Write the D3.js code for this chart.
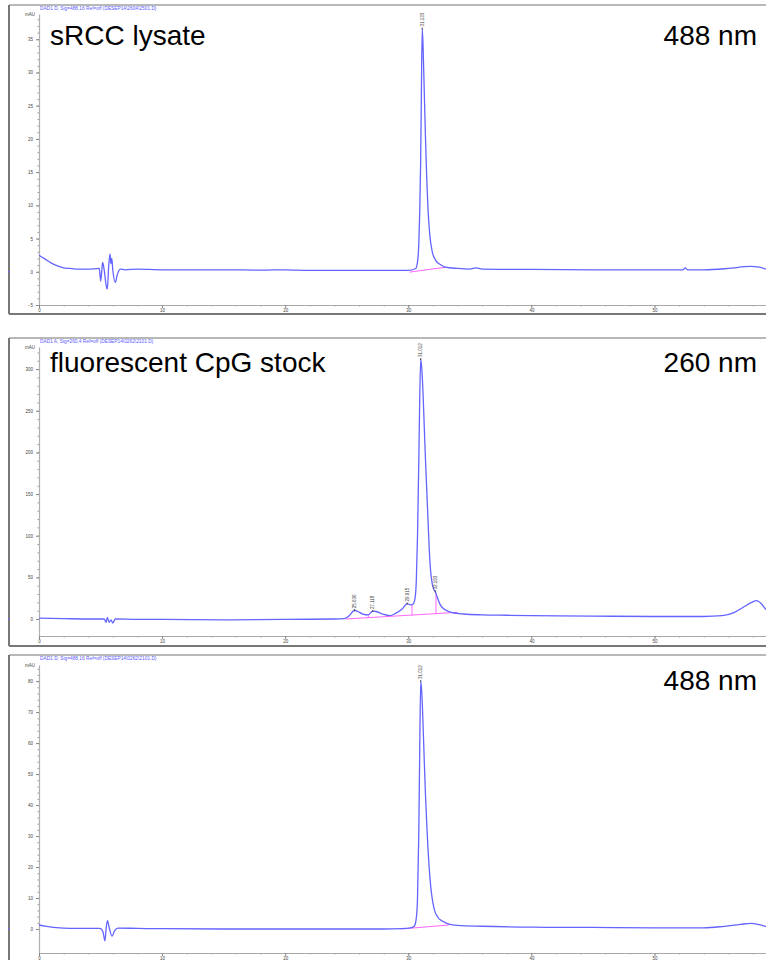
<!DOCTYPE html>
<html>
<head>
<meta charset="utf-8">
<script src="https://cdn.jsdelivr.net/npm/d3@7"></script>
<style>
  body { margin: 0; background: #fff; }
  svg { display: block; }
</style>
</head>
<body>
<div id="chart"></div>
<script>
// x ticks (minutes) shared by all three traces
const xTicks = [0, 10, 20, 30, 40, 50];

// panel 1: sRCC lysate, 488 nm
const lysateTime = [0, 0.5, 1, 1.5, 2, 2.5, 3, 4, 4.9, 5.01, 5.1, 5.17, 5.3, 5.45, 5.55, 5.65, 5.77, 5.84, 5.91, 6.0, 6.2, 6.35, 6.6,
  7, 8, 10, 12, 15, 18, 20, 22, 25, 28, 30, 30.6, 30.75, 30.85, 30.93, 31.0, 31.06, 31.133, 31.2, 31.3, 31.4, 31.5,
  31.6, 31.75, 31.95, 32.2, 32.6, 33, 34, 35, 35.5, 36, 40, 45, 50, 52.3, 52.5, 52.7, 54, 56, 57.8, 58.5, 59.06];
const lysateSignal = [2.5, 1.9, 1.3, 0.9, 0.6, 0.5, 0.4, 0.4, 0.5, -1.4, 0.2, 1.4, 0.2, -2.0, -2.6, 0.5, 2.7, 1.2, 2.0, 0.2, -1.6, -0.5, 0.4,
  0.3, 0.4, 0.3, 0.3, 0.3, 0.25, 0.3, 0.2, 0.2, 0.2, 0.2, 0.5, 1.5, 4, 9, 16, 26, 36.6, 34, 27, 20, 14,
  9.5, 5.5, 3, 1.8, 1.1, 0.7, 0.5, 0.4, 0.6, 0.4, 0.35, 0.3, 0.3, 0.3, 0.6, 0.3, 0.3, 0.5, 0.8, 0.7, 0.4];
const lysateYTicks = [-5, 0, 5, 10, 15, 20, 25, 30, 35];
const lysatePeaks = [31.133];
const lysateBaseTime = [30.1, 33.1];
const lysateBaseSignal = [-0.05, 0.7];
const lysateDrops = [];

// panel 2: fluorescent CpG stock, 260 nm
const stock260Time = [0, 2, 4, 5.3, 5.45, 5.55, 5.7, 5.85, 6.0, 6.2, 8, 10, 15, 20, 24, 24.8, 25.2, 25.5, 25.636, 25.9, 26.3, 26.75,
  27.118, 27.4, 27.9, 28.5, 29, 29.5, 29.915, 30.2, 30.4, 30.55, 30.65, 30.75, 30.85, 30.93, 31.012, 31.1, 31.2, 31.3,
  31.4, 31.5, 31.6, 31.7, 31.8, 31.95, 32.1, 32.193, 32.35, 32.6, 33.0, 33.6, 34.5, 36, 38, 40, 45, 50, 54, 55.5, 56.5,
  57.3, 57.9, 58.3, 58.7, 59.06];
const stock260Signal = [1, 0.5, 0, 0, -4, 2, -4, -1, -5, 0, -0.5, -0.5, -1, -0.5, 0, 0.5, 4, 9, 10.5, 9, 6, 5,
  9.5, 9, 6, 4, 7, 12, 18.5, 17, 18, 25, 45, 100, 185, 265, 312, 300, 270, 230,
  190, 155, 120, 85, 60, 42, 35, 33, 26, 17, 11, 7.5, 6, 5, 4.5, 4, 3.5, 3, 3, 4, 8,
  15, 20, 22, 18, 11];
const stock260YTicks = [0, 50, 100, 150, 200, 250, 300];
const stock260Peaks = [25.636, 27.118, 29.915, 31.012, 32.193];
const stock260BaseTime = [24.9, 34.0];
const stock260BaseSignal = [0, 8];
const stock260Drops = [26.75, 28.5, 30.3, 32.25];

// panel 3: fluorescent CpG stock, 488 nm
const stock488Time = [0, 0.5, 1, 2, 3, 4.5, 4.95, 5.2, 5.36, 5.45, 5.56, 5.7, 5.93, 6.15, 6.4, 8, 10, 15, 20, 25, 28, 29.4, 30.2,
  30.5, 30.65, 30.75, 30.85, 30.93, 31.012, 31.1, 31.2, 31.3, 31.4, 31.5, 31.6, 31.75, 31.9, 32.1, 32.4, 32.8, 33.3, 34,
  36, 40, 45, 50, 54, 55.5, 57, 57.8, 58.5, 59.06];
const stock488Signal = [1.3, 0.9, 0.6, 0.3, 0.2, 0.2, 0.2, -1, -3.8, 0, 2.7, 0.5, -2.3, -0.5, 0.3, 0.2, 0.1, 0, 0, 0, 0, 0.1, 0.4,
  1, 3.5, 10, 30, 58, 80, 76, 66, 54, 43, 34, 26, 17, 11, 6.5, 3.8, 2.5, 1.6, 1.2,
  0.9, 0.6, 0.5, 0.4, 0.4, 0.8, 1.5, 1.8, 1.4, 0.8];
const stock488YTicks = [0, 10, 20, 30, 40, 50, 60, 70, 80];
const stock488Peaks = [31.012];
const stock488BaseTime = [29.4, 33.3];
const stock488BaseSignal = [0, 1.3];
const stock488Drops = [];

const panels = [
  { time: lysateTime, signal: lysateSignal, yTicks: lysateYTicks, peaks: lysatePeaks,
    baseTime: lysateBaseTime, baseSignal: lysateBaseSignal, drops: lysateDrops,
    header: 'DAD1 D, Sig=488,16 Ref=off (DESEP14\\2604\\2501.D)', title: 'sRCC lysate', wave: '488 nm',
    frameTop: 5, frameBottom: 314, plotTop: 14, plotBottom: 305, yDomain: [-5, 38.8], titleY: 45 },
  { time: stock260Time, signal: stock260Signal, yTicks: stock260YTicks, peaks: stock260Peaks,
    baseTime: stock260BaseTime, baseSignal: stock260BaseSignal, drops: stock260Drops,
    header: 'DAD1 A, Sig=260,4 Ref=off (DESEP14\\0262\\2101.D)', title: 'fluorescent CpG stock', wave: '260 nm',
    frameTop: 338, frameBottom: 646, plotTop: 347, plotBottom: 636, yDomain: [-20.4, 326.5], titleY: 372 },
  { time: stock488Time, signal: stock488Signal, yTicks: stock488YTicks, peaks: stock488Peaks,
    baseTime: stock488BaseTime, baseSignal: stock488BaseSignal, drops: stock488Drops,
    header: 'DAD1 D, Sig=488,16 Ref=off (DESEP14\\0262\\2101.D)', title: '', wave: '488 nm',
    frameTop: 655, frameBottom: 962, plotTop: 665, plotBottom: 953, yDomain: [-7.74, 85.2], titleY: 690 }
];

const width = 766, height = 960;
const plotLeft = 39, plotRight = 766;
const traceColor = '#6464ff';
const baseColor = '#ff66ff';
const fontFamily = '"Liberation Sans", Arial, sans-serif';

const svg = d3.select('#chart').append('svg')
  .attr('width', width)
  .attr('height', height);

const x = d3.scaleLinear().domain([0, 59.06]).range([plotLeft, plotRight]);

function valueAt(times, values, t) {
  const i = d3.bisectLeft(times, t);
  if (i <= 0) return values[0];
  if (i >= times.length) return values[values.length - 1];
  const t0 = times[i - 1], t1 = times[i];
  return values[i - 1] + (values[i] - values[i - 1]) * (t - t0) / (t1 - t0);
}

panels.forEach(p => {
  const g = svg.append('g');
  const y = d3.scaleLinear().domain(p.yDomain).range([p.plotBottom, p.plotTop]);

  // frame
  g.append('line').attr('x1', 9).attr('x2', width).attr('y1', p.frameTop).attr('y2', p.frameTop)
    .attr('stroke', '#a0a0a0').attr('stroke-width', 1.5);
  g.append('line').attr('x1', 9).attr('x2', width).attr('y1', p.frameBottom).attr('y2', p.frameBottom)
    .attr('stroke', '#777').attr('stroke-width', 2);
  g.append('line').attr('x1', 9).attr('x2', 9).attr('y1', p.frameTop).attr('y2', p.frameBottom)
    .attr('stroke', '#777').attr('stroke-width', 2);
  // small blue marker on the frame at zero
  g.append('line').attr('x1', 8).attr('x2', 10).attr('y1', y(0)).attr('y2', y(0))
    .attr('stroke', traceColor).attr('stroke-width', 1);

  // header
  g.append('text').attr('x', 40).attr('y', p.frameTop + 5)
    .attr('font-family', fontFamily).attr('font-size', 4.8).attr('fill', '#5a5aff')
    .text(p.header);
  g.append('text').attr('x', 35).attr('y', p.plotTop + 2).attr('text-anchor', 'end')
    .attr('font-family', fontFamily).attr('font-size', 4.5).attr('fill', '#444')
    .text('mAU');

  // y axis: minor then major
  const yStep = p.yTicks[1] - p.yTicks[0];
  const yMinor = d3.range(p.yTicks[0], p.yDomain[1], yStep / 5);
  g.append('g').attr('transform', `translate(${plotLeft},0)`)
    .call(d3.axisLeft(y).tickValues(yMinor).tickSize(1.5).tickFormat(''))
    .call(a => a.select('.domain').remove())
    .call(a => a.selectAll('line').attr('stroke', '#999'));
  g.append('g').attr('transform', `translate(${plotLeft},0)`)
    .call(d3.axisLeft(y).tickValues(p.yTicks).tickSize(3).tickPadding(3).tickSizeOuter(0))
    .call(a => a.select('.domain').attr('stroke', '#b0b0b0').attr('stroke-width', 1.2))
    .call(a => a.selectAll('line').attr('stroke', '#888'))
    .call(a => a.selectAll('text').attr('font-family', fontFamily).attr('font-size', 4.5).attr('fill', '#444'));

  // x axis
  const xMinor = d3.range(0, 59, 2);
  g.append('g').attr('transform', `translate(0,${p.plotBottom})`)
    .call(d3.axisBottom(x).tickValues(xMinor).tickSize(1.5).tickFormat(''))
    .call(a => a.select('.domain').remove())
    .call(a => a.selectAll('line').attr('stroke', '#999'));
  g.append('g').attr('transform', `translate(0,${p.plotBottom})`)
    .call(d3.axisBottom(x).tickValues(xTicks).tickSize(3).tickPadding(1).tickSizeOuter(0))
    .call(a => a.select('.domain').attr('stroke', '#a8a8a8').attr('stroke-width', 1.2))
    .call(a => a.selectAll('line').attr('stroke', '#888'))
    .call(a => a.selectAll('text').attr('font-family', fontFamily).attr('font-size', 4.5).attr('fill', '#444'));

  // integration baseline and drop lines
  const baseLine = d3.line().x(d => x(d[0])).y(d => y(d[1]));
  g.append('path').datum(d3.zip(p.baseTime, p.baseSignal))
    .attr('d', baseLine).attr('fill', 'none').attr('stroke', baseColor).attr('stroke-width', 1);
  p.drops.forEach(t => {
    const b = valueAt(p.baseTime, p.baseSignal, t);
    const s = valueAt(p.time, p.signal, t);
    g.append('line').attr('x1', x(t)).attr('x2', x(t)).attr('y1', y(b)).attr('y2', y(s))
      .attr('stroke', baseColor).attr('stroke-width', 1);
  });

  // trace
  const line = d3.line().x(d => x(d[0])).y(d => y(d[1])).curve(d3.curveMonotoneX);
  g.append('path').datum(d3.zip(p.time, p.signal))
    .attr('d', line).attr('fill', 'none').attr('stroke', traceColor).attr('stroke-width', 1.3);

  // peak labels
  p.peaks.forEach(t => {
    const px = x(t), py = y(valueAt(p.time, p.signal, t));
    g.append('line').attr('x1', px).attr('x2', px).attr('y1', py - 1).attr('y2', py + 1)
      .attr('stroke', '#444').attr('stroke-width', 1);
    g.append('text')
      .attr('transform', `translate(${px + 1.5},${py - 2}) rotate(-90)`)
      .attr('font-family', fontFamily).attr('font-size', 4.5).attr('fill', '#444')
      .text(t.toFixed(3));
  });

  // titles
  if (p.title) {
    g.append('text').attr('x', 50).attr('y', p.titleY)
      .attr('font-family', fontFamily).attr('font-size', 28).attr('fill', '#000')
      .text(p.title);
  }
  g.append('text').attr('x', 757).attr('y', p.titleY).attr('text-anchor', 'end')
    .attr('font-family', fontFamily).attr('font-size', 28).attr('fill', '#000')
    .text(p.wave);
});
</script>
</body>
</html>
